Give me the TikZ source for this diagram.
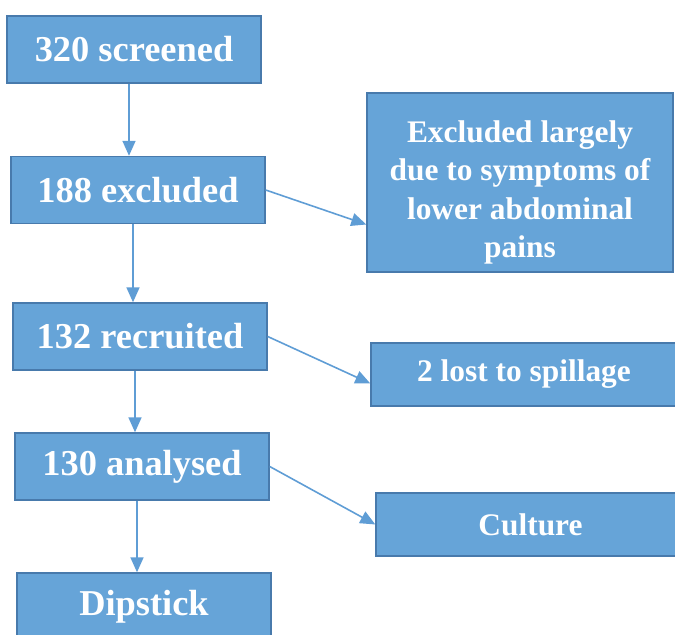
\documentclass[tikz,border=0pt]{standalone}
\usepackage{fontspec}
\setmainfont{Liberation Serif}
\usetikzlibrary{arrows.meta}
\definecolor{boxblue}{RGB}{102,164,216}
\definecolor{edgeblue}{RGB}{72,122,172}
\definecolor{lineblue}{RGB}{95,157,213}

\begin{document}
\begin{tikzpicture}[x=0.5pt, y=-0.5pt,
	stage/.style={draw=edgeblue, line width=0.7pt, fill=boxblue, text=white, inner sep=0pt,
		minimum width=127pt, minimum height=33.5pt, font=\fontsize{18.2}{21}\selectfont\bfseries},
	side/.style={draw=edgeblue, line width=0.7pt, fill=boxblue, text=white, inner sep=0pt,
		minimum width=153pt, minimum height=31.5pt, font=\fontsize{15.7}{19.2}\selectfont\bfseries, align=center},
	flow/.style={draw=lineblue, line width=0.8pt, -{Triangle[length=7.5pt, width=6.5pt]}}]
	\useasboundingbox (0,0) rectangle (675,635);
	% Main stages
	\node[stage] (scr) at (134,49.5) {320 screened};
	\node[stage] (exc) at (138,190) {188 excluded};
	\node[stage] (rec) at (140,336.5) {132 recruited};
	\node[stage] (ana) at (142,466.5) {130 analysed};
	\node[stage] (dip) at (144,606.5) {Dipstick};
	% Side boxes
	\node[side, minimum height=89.5pt] (why) at (520,182.5) {\rule{0pt}{21pt}Excluded largely\\due to symptoms of\\lower abdominal\\pains};
	\node[side] (lost) at (524,374.5) {2 lost to spillage};
	\node[side, minimum width=154.5pt] (cult) at (530.5,524.5) {Culture};
	% Arrows down
	\foreach \a/\b in {scr/exc, exc/rec, rec/ana, ana/dip}{
		\draw[flow] ([xshift=-2.5pt]\a.south) -- ([xshift=-2.5pt]\a.south |- \b.north);
	}
	% Arrows to the side
	\draw[flow] (exc.east) -- ([yshift=-21pt]why.west);
	\draw[flow] (rec.east) -- ([yshift=-4.5pt]lost.west);
	\draw[flow] (ana.east) -- (cult.west);
\end{tikzpicture}
\end{document}
